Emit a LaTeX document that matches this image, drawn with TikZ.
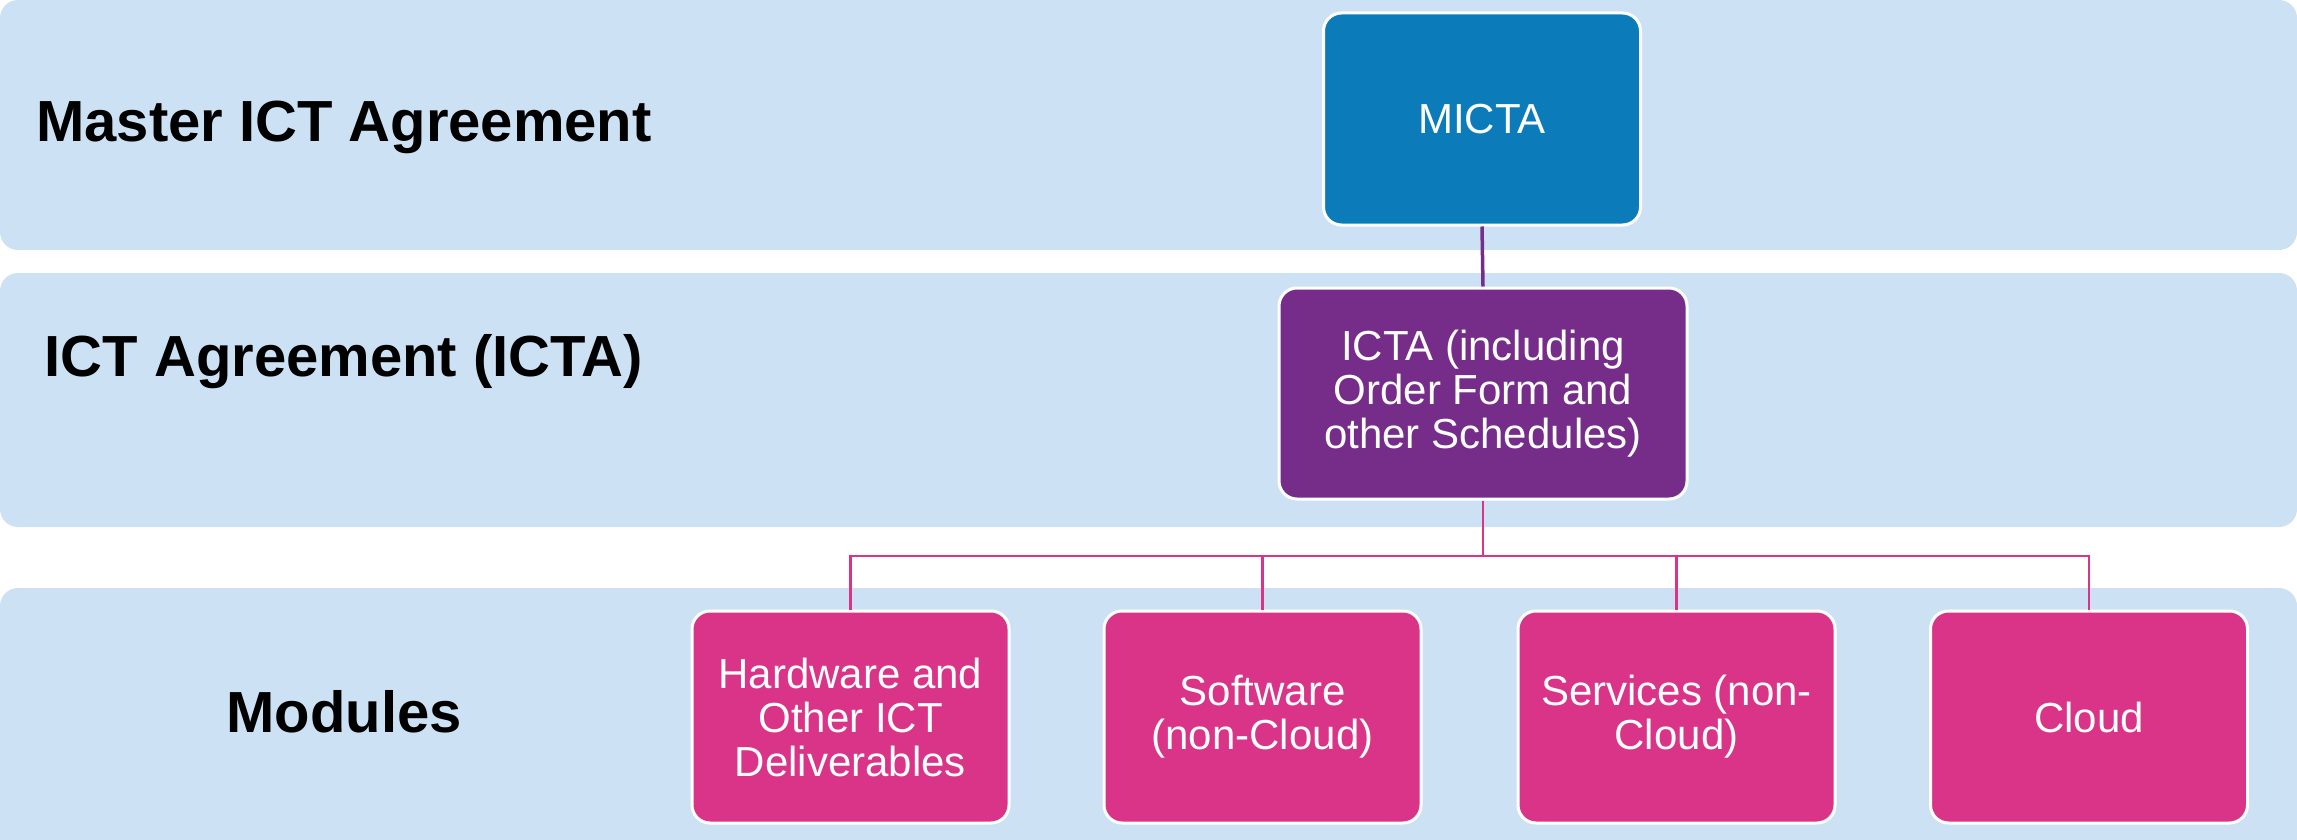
\documentclass[tikz,border=0pt]{standalone}
\usepackage{fontspec}
\setmainfont{Liberation Sans}
\definecolor{bandbg}{RGB}{204,226,244}
\definecolor{mictablue}{RGB}{11,124,185}
\definecolor{ictapurple}{RGB}{118,45,137}
\definecolor{modpink}{RGB}{218,52,136}
\tikzset{
  band/.style={fill=bandbg, rounded corners=18pt},
  levellabel/.style={anchor=base, font=\bfseries\fontsize{58}{64}\selectfont, text=black},
  docbox/.style={draw=white, line width=3pt, rounded corners=18pt,
    minimum width=317pt, align=center, text=white,
    font=\fontsize{42}{44}\selectfont, inner sep=0pt},
  modbox/.style={docbox, fill=modpink, minimum height=212pt},
  bus/.style={draw=modpink, line width=2.5pt},
}
\begin{document}
\begin{tikzpicture}[x=1pt,y=-1pt]
\useasboundingbox (0,0) rectangle (2297,840);
% horizontal level bands
\fill[band] (0,0) rectangle (2297,250);
\fill[band] (0,273) rectangle (2297,527);
\fill[band] (0,588) rectangle (2297,880);
% level captions
\node[levellabel] (lvl1) at (344,142) {Master ICT Agreement};
\node[levellabel] (lvl2) at (344,376) {ICT Agreement (ICTA)};
\node[levellabel] (lvl3) at (344,732) {Modules};
% documents
\node[docbox, fill=mictablue, minimum height=212pt] (micta) at (1482,119) {MICTA};
\node[docbox, fill=ictapurple, minimum width=408pt, minimum height=211pt] (icta) at (1483,393.5)
  {ICTA (including\\Order Form and\\other Schedules)};
\node[modbox] (hw) at (850.5,717) {Hardware and\\Other ICT\\Deliverables};
\node[modbox] (sw) at (1262.5,717) {Software\\(non-Cloud)};
\node[modbox] (sv) at (1676.5,717) {Services (non-\\Cloud)};
\node[modbox] (cl) at (2089,717) {Cloud};
% connectors
\coordinate (busy) at (0,556);
\draw[draw=ictapurple, line width=3.5pt] (micta.south) -- (icta.north);
\draw[bus] (icta.south) -- (icta.south |- busy);
\draw[bus] (hw.north) |- (cl.north |- busy) -- (cl.north);
\draw[bus] (sw.north) -- (sw.north |- busy);
\draw[bus] (sv.north) -- (sv.north |- busy);
\end{tikzpicture}
\end{document}
